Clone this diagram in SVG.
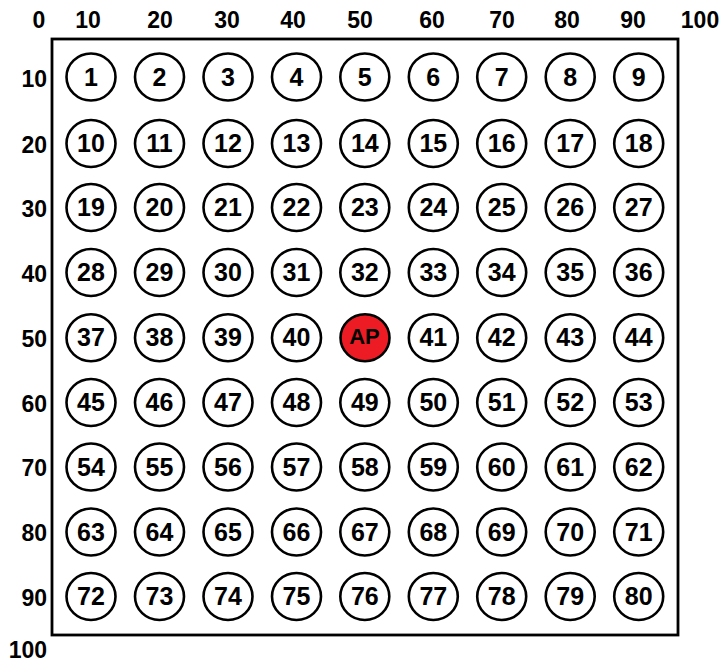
<svg xmlns="http://www.w3.org/2000/svg" width="723" height="663" viewBox="0 0 723 663">
<style>
.ax{font-family:"Liberation Sans",Arial,sans-serif;font-weight:bold;font-size:23px;fill:#000}
.axl{text-anchor:end}
.axt{text-anchor:middle}
.n ellipse{fill:#fff;stroke:#000;stroke-width:2.6}
.n text{font-family:"Liberation Sans",Arial,sans-serif;font-weight:bold;font-size:25px;text-anchor:middle;fill:#000}
#ap ellipse{fill:#ED1C24}
</style>
<rect width="723" height="663" fill="#fff"/>
<rect x="52" y="39" width="626" height="596" fill="none" stroke="#000" stroke-width="2.8"/>
<g id="axis-top">
<text class="ax axt" x="39" y="28">0</text>
<text class="ax axt" x="88" y="28">10</text>
<text class="ax axt" x="160" y="28">20</text>
<text class="ax axt" x="227" y="28">30</text>
<text class="ax axt" x="293" y="28">40</text>
<text class="ax axt" x="360" y="28">50</text>
<text class="ax axt" x="432" y="28">60</text>
<text class="ax axt" x="502" y="28">70</text>
<text class="ax axt" x="567" y="28">80</text>
<text class="ax axt" x="633" y="28">90</text>
<text class="ax axt" x="700" y="28">100</text>
</g>
<g id="axis-left">
<text class="ax axl" x="47" y="87">10</text>
<text class="ax axl" x="47" y="153">20</text>
<text class="ax axl" x="47" y="217">30</text>
<text class="ax axl" x="47" y="282">40</text>
<text class="ax axl" x="47" y="347">50</text>
<text class="ax axl" x="47" y="412">60</text>
<text class="ax axl" x="47" y="476">70</text>
<text class="ax axl" x="47" y="541">80</text>
<text class="ax axl" x="47" y="606">90</text>
<text class="ax axl" x="47" y="658">100</text>
</g>
<g id="nodes">
<g id="n1" class="n"><ellipse cx="91" cy="77" rx="24.5" ry="23.5"/><text x="91" y="85.5">1</text></g>
<g id="n2" class="n"><ellipse cx="159.5" cy="77" rx="24.5" ry="23.5"/><text x="159.5" y="85.5">2</text></g>
<g id="n3" class="n"><ellipse cx="228" cy="77" rx="24.5" ry="23.5"/><text x="228" y="85.5">3</text></g>
<g id="n4" class="n"><ellipse cx="296.5" cy="77" rx="24.5" ry="23.5"/><text x="296.5" y="85.5">4</text></g>
<g id="n5" class="n"><ellipse cx="364.8" cy="77" rx="24.5" ry="23.5"/><text x="364.8" y="85.5">5</text></g>
<g id="n6" class="n"><ellipse cx="433.3" cy="77" rx="24.5" ry="23.5"/><text x="433.3" y="85.5">6</text></g>
<g id="n7" class="n"><ellipse cx="501.7" cy="77" rx="24.5" ry="23.5"/><text x="501.7" y="85.5">7</text></g>
<g id="n8" class="n"><ellipse cx="570.2" cy="77" rx="24.5" ry="23.5"/><text x="570.2" y="85.5">8</text></g>
<g id="n9" class="n"><ellipse cx="638.7" cy="77" rx="24.5" ry="23.5"/><text x="638.7" y="85.5">9</text></g>

<g id="n10" class="n"><ellipse cx="91" cy="143.5" rx="24.5" ry="23.5"/><text x="91" y="152">10</text></g>
<g id="n11" class="n"><ellipse cx="159.5" cy="143.5" rx="24.5" ry="23.5"/><text x="159.5" y="152">11</text></g>
<g id="n12" class="n"><ellipse cx="228" cy="143.5" rx="24.5" ry="23.5"/><text x="228" y="152">12</text></g>
<g id="n13" class="n"><ellipse cx="296.5" cy="143.5" rx="24.5" ry="23.5"/><text x="296.5" y="152">13</text></g>
<g id="n14" class="n"><ellipse cx="364.8" cy="143.5" rx="24.5" ry="23.5"/><text x="364.8" y="152">14</text></g>
<g id="n15" class="n"><ellipse cx="433.3" cy="143.5" rx="24.5" ry="23.5"/><text x="433.3" y="152">15</text></g>
<g id="n16" class="n"><ellipse cx="501.7" cy="143.5" rx="24.5" ry="23.5"/><text x="501.7" y="152">16</text></g>
<g id="n17" class="n"><ellipse cx="570.2" cy="143.5" rx="24.5" ry="23.5"/><text x="570.2" y="152">17</text></g>
<g id="n18" class="n"><ellipse cx="638.7" cy="143.5" rx="24.5" ry="23.5"/><text x="638.7" y="152">18</text></g>

<g id="n19" class="n"><ellipse cx="91" cy="207.5" rx="24.5" ry="23.5"/><text x="91" y="216">19</text></g>
<g id="n20" class="n"><ellipse cx="159.5" cy="207.5" rx="24.5" ry="23.5"/><text x="159.5" y="216">20</text></g>
<g id="n21" class="n"><ellipse cx="228" cy="207.5" rx="24.5" ry="23.5"/><text x="228" y="216">21</text></g>
<g id="n22" class="n"><ellipse cx="296.5" cy="207.5" rx="24.5" ry="23.5"/><text x="296.5" y="216">22</text></g>
<g id="n23" class="n"><ellipse cx="364.8" cy="207.5" rx="24.5" ry="23.5"/><text x="364.8" y="216">23</text></g>
<g id="n24" class="n"><ellipse cx="433.3" cy="207.5" rx="24.5" ry="23.5"/><text x="433.3" y="216">24</text></g>
<g id="n25" class="n"><ellipse cx="501.7" cy="207.5" rx="24.5" ry="23.5"/><text x="501.7" y="216">25</text></g>
<g id="n26" class="n"><ellipse cx="570.2" cy="207.5" rx="24.5" ry="23.5"/><text x="570.2" y="216">26</text></g>
<g id="n27" class="n"><ellipse cx="638.7" cy="207.5" rx="24.5" ry="23.5"/><text x="638.7" y="216">27</text></g>

<g id="n28" class="n"><ellipse cx="91" cy="272.5" rx="24.5" ry="23.5"/><text x="91" y="281">28</text></g>
<g id="n29" class="n"><ellipse cx="159.5" cy="272.5" rx="24.5" ry="23.5"/><text x="159.5" y="281">29</text></g>
<g id="n30" class="n"><ellipse cx="228" cy="272.5" rx="24.5" ry="23.5"/><text x="228" y="281">30</text></g>
<g id="n31" class="n"><ellipse cx="296.5" cy="272.5" rx="24.5" ry="23.5"/><text x="296.5" y="281">31</text></g>
<g id="n32" class="n"><ellipse cx="364.8" cy="272.5" rx="24.5" ry="23.5"/><text x="364.8" y="281">32</text></g>
<g id="n33" class="n"><ellipse cx="433.3" cy="272.5" rx="24.5" ry="23.5"/><text x="433.3" y="281">33</text></g>
<g id="n34" class="n"><ellipse cx="501.7" cy="272.5" rx="24.5" ry="23.5"/><text x="501.7" y="281">34</text></g>
<g id="n35" class="n"><ellipse cx="570.2" cy="272.5" rx="24.5" ry="23.5"/><text x="570.2" y="281">35</text></g>
<g id="n36" class="n"><ellipse cx="638.7" cy="272.5" rx="24.5" ry="23.5"/><text x="638.7" y="281">36</text></g>

<g id="n37" class="n"><ellipse cx="91" cy="337.8" rx="24.5" ry="23.5"/><text x="91" y="346.3">37</text></g>
<g id="n38" class="n"><ellipse cx="159.5" cy="337.8" rx="24.5" ry="23.5"/><text x="159.5" y="346.3">38</text></g>
<g id="n39" class="n"><ellipse cx="228" cy="337.8" rx="24.5" ry="23.5"/><text x="228" y="346.3">39</text></g>
<g id="n40" class="n"><ellipse cx="296.5" cy="337.8" rx="24.5" ry="23.5"/><text x="296.5" y="346.3">40</text></g>
<g id="ap" class="n"><ellipse cx="365" cy="337.8" rx="24.5" ry="23.5"/><text x="364.5" y="343.5" style="font-size:22px">AP</text></g>
<g id="n41" class="n"><ellipse cx="433.3" cy="337.8" rx="24.5" ry="23.5"/><text x="433.3" y="346.3">41</text></g>
<g id="n42" class="n"><ellipse cx="501.7" cy="337.8" rx="24.5" ry="23.5"/><text x="501.7" y="346.3">42</text></g>
<g id="n43" class="n"><ellipse cx="570.2" cy="337.8" rx="24.5" ry="23.5"/><text x="570.2" y="346.3">43</text></g>
<g id="n44" class="n"><ellipse cx="638.7" cy="337.8" rx="24.5" ry="23.5"/><text x="638.7" y="346.3">44</text></g>

<g id="n45" class="n"><ellipse cx="91" cy="402.5" rx="24.5" ry="23.5"/><text x="91" y="411">45</text></g>
<g id="n46" class="n"><ellipse cx="159.5" cy="402.5" rx="24.5" ry="23.5"/><text x="159.5" y="411">46</text></g>
<g id="n47" class="n"><ellipse cx="228" cy="402.5" rx="24.5" ry="23.5"/><text x="228" y="411">47</text></g>
<g id="n48" class="n"><ellipse cx="296.5" cy="402.5" rx="24.5" ry="23.5"/><text x="296.5" y="411">48</text></g>
<g id="n49" class="n"><ellipse cx="364.8" cy="402.5" rx="24.5" ry="23.5"/><text x="364.8" y="411">49</text></g>
<g id="n50" class="n"><ellipse cx="433.3" cy="402.5" rx="24.5" ry="23.5"/><text x="433.3" y="411">50</text></g>
<g id="n51" class="n"><ellipse cx="501.7" cy="402.5" rx="24.5" ry="23.5"/><text x="501.7" y="411">51</text></g>
<g id="n52" class="n"><ellipse cx="570.2" cy="402.5" rx="24.5" ry="23.5"/><text x="570.2" y="411">52</text></g>
<g id="n53" class="n"><ellipse cx="638.7" cy="402.5" rx="24.5" ry="23.5"/><text x="638.7" y="411">53</text></g>

<g id="n54" class="n"><ellipse cx="91" cy="467" rx="24.5" ry="23.5"/><text x="91" y="475.5">54</text></g>
<g id="n55" class="n"><ellipse cx="159.5" cy="467" rx="24.5" ry="23.5"/><text x="159.5" y="475.5">55</text></g>
<g id="n56" class="n"><ellipse cx="228" cy="467" rx="24.5" ry="23.5"/><text x="228" y="475.5">56</text></g>
<g id="n57" class="n"><ellipse cx="296.5" cy="467" rx="24.5" ry="23.5"/><text x="296.5" y="475.5">57</text></g>
<g id="n58" class="n"><ellipse cx="364.8" cy="467" rx="24.5" ry="23.5"/><text x="364.8" y="475.5">58</text></g>
<g id="n59" class="n"><ellipse cx="433.3" cy="467" rx="24.5" ry="23.5"/><text x="433.3" y="475.5">59</text></g>
<g id="n60" class="n"><ellipse cx="501.7" cy="467" rx="24.5" ry="23.5"/><text x="501.7" y="475.5">60</text></g>
<g id="n61" class="n"><ellipse cx="570.2" cy="467" rx="24.5" ry="23.5"/><text x="570.2" y="475.5">61</text></g>
<g id="n62" class="n"><ellipse cx="638.7" cy="467" rx="24.5" ry="23.5"/><text x="638.7" y="475.5">62</text></g>

<g id="n63" class="n"><ellipse cx="91" cy="532" rx="24.5" ry="23.5"/><text x="91" y="540.5">63</text></g>
<g id="n64" class="n"><ellipse cx="159.5" cy="532" rx="24.5" ry="23.5"/><text x="159.5" y="540.5">64</text></g>
<g id="n65" class="n"><ellipse cx="228" cy="532" rx="24.5" ry="23.5"/><text x="228" y="540.5">65</text></g>
<g id="n66" class="n"><ellipse cx="296.5" cy="532" rx="24.5" ry="23.5"/><text x="296.5" y="540.5">66</text></g>
<g id="n67" class="n"><ellipse cx="364.8" cy="532" rx="24.5" ry="23.5"/><text x="364.8" y="540.5">67</text></g>
<g id="n68" class="n"><ellipse cx="433.3" cy="532" rx="24.5" ry="23.5"/><text x="433.3" y="540.5">68</text></g>
<g id="n69" class="n"><ellipse cx="501.7" cy="532" rx="24.5" ry="23.5"/><text x="501.7" y="540.5">69</text></g>
<g id="n70" class="n"><ellipse cx="570.2" cy="532" rx="24.5" ry="23.5"/><text x="570.2" y="540.5">70</text></g>
<g id="n71" class="n"><ellipse cx="638.7" cy="532" rx="24.5" ry="23.5"/><text x="638.7" y="540.5">71</text></g>

<g id="n72" class="n"><ellipse cx="91" cy="596.5" rx="24.5" ry="23.5"/><text x="91" y="605">72</text></g>
<g id="n73" class="n"><ellipse cx="159.5" cy="596.5" rx="24.5" ry="23.5"/><text x="159.5" y="605">73</text></g>
<g id="n74" class="n"><ellipse cx="228" cy="596.5" rx="24.5" ry="23.5"/><text x="228" y="605">74</text></g>
<g id="n75" class="n"><ellipse cx="296.5" cy="596.5" rx="24.5" ry="23.5"/><text x="296.5" y="605">75</text></g>
<g id="n76" class="n"><ellipse cx="364.8" cy="596.5" rx="24.5" ry="23.5"/><text x="364.8" y="605">76</text></g>
<g id="n77" class="n"><ellipse cx="433.3" cy="596.5" rx="24.5" ry="23.5"/><text x="433.3" y="605">77</text></g>
<g id="n78" class="n"><ellipse cx="501.7" cy="596.5" rx="24.5" ry="23.5"/><text x="501.7" y="605">78</text></g>
<g id="n79" class="n"><ellipse cx="570.2" cy="596.5" rx="24.5" ry="23.5"/><text x="570.2" y="605">79</text></g>
<g id="n80" class="n"><ellipse cx="638.7" cy="596.5" rx="24.5" ry="23.5"/><text x="638.7" y="605">80</text></g>
</g>
<g id="connectors"></g>
</svg>
